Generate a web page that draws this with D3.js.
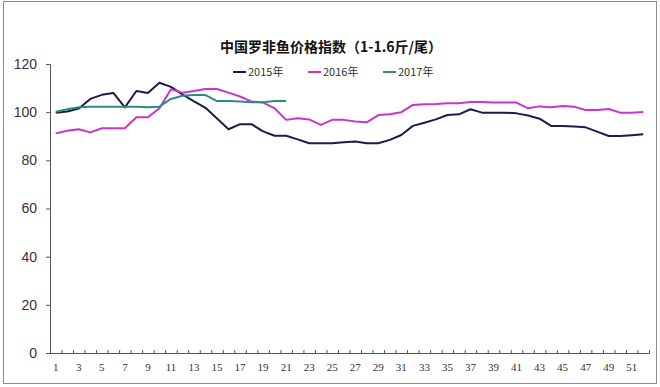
<!DOCTYPE html>
<html>
<head>
<meta charset="utf-8">
<script src="https://cdn.jsdelivr.net/npm/d3@7"></script>
<style>
  body { margin: 0; background: #fff; }
  svg { display: block; }
</style>
</head>
<body>
<div id="chart"></div>
<script>
// weeks 1..52
const weeks = d3.range(1, 53);
const yTicks = [0, 20, 40, 60, 80, 100, 120];

const y2015 = [99.8, 100.3, 101.5, 105.5, 107.2, 108, 102, 108.8, 108, 112.2,
  110.5, 107.4, 104.5, 101.8, 97.4, 92.9, 95, 95, 92, 90.2,
  90.2, 88.7, 87.1, 87.1, 87.1, 87.5, 87.8, 87.1, 87.1, 88.5,
  90.5, 94.3, 95.6, 97, 98.8, 99.1, 101.2, 99.8, 99.8, 99.8,
  99.5, 98.6, 97.3, 94.3, 94.3, 94, 93.7, 91.9, 90.1, 90.1,
  90.4, 90.8];
const y2016 = [91.2, 92.3, 92.9, 91.6, 93.3, 93.3, 93.3, 97.9, 97.9, 101.6,
  109.5, 108.1, 108.8, 109.6, 109.6, 108.1, 106.5, 104.4, 104, 101.6,
  96.8, 97.5, 97, 94.7, 96.8, 96.8, 96.1, 95.8, 98.8, 99.1,
  100, 103, 103.3, 103.4, 103.7, 103.7, 104.2, 104.2, 104, 104,
  104, 101.6, 102.4, 102, 102.6, 102.3, 100.9, 100.9, 101.3, 99.8,
  99.8, 100.1];
const y2017 = [100.2, 101.2, 102, 102.2, 102.3, 102.3, 102.3, 102.3, 102, 102.3,
  105.5, 106.8, 107.1, 107.1, 104.6, 104.6, 104.4, 104.1, 104.1, 104.6,
  104.6];

const seriesNames = ["2015年", "2016年", "2017年"];
const seriesColors = ["#1c1c4c", "#cc33cc", "#2e8a88"];
const seriesData = [y2015, y2016, y2017];

const width = 660, height = 387;
const svg = d3.select("#chart").append("svg")
  .attr("width", width)
  .attr("height", height);

// outer frame
svg.append("rect")
  .attr("x", 3.5).attr("y", 1.5)
  .attr("width", 653).attr("height", 382)
  .attr("fill", "#fff")
  .attr("stroke", "#8c8c8c");

const x = d3.scaleBand().domain(weeks).range([50, 649]);
const xEdge = d3.scaleLinear().domain([0, 52]).range([50, 649]);
const y = d3.scaleLinear().domain([0, 120]).range([353, 64]);

// title
svg.append("text")
  .attr("x", 331).attr("y", 52)
  .attr("text-anchor", "middle")
  .attr("font-family", "'Noto Sans CJK SC', sans-serif")
  .attr("font-weight", "bold")
  .attr("font-size", 14)
  .attr("fill", "#111")
  .text("中国罗非鱼价格指数（1-1.6斤/尾）");

// legend
const legendX = [233, 308, 383];
seriesNames.forEach((name, i) => {
  const g = svg.append("g").attr("transform", `translate(${legendX[i]},72)`);
  g.append("line")
    .attr("x1", 0).attr("x2", 13)
    .attr("stroke", seriesColors[i]).attr("stroke-width", 2);
  g.append("text")
    .attr("x", 15).attr("y", 4)
    .attr("font-family", "'Noto Sans CJK SC', sans-serif")
    .attr("font-size", 11)
    .attr("fill", "#333")
    .text(name);
});

// y axis
const yAxis = svg.append("g")
  .attr("transform", "translate(50,0)")
  .call(d3.axisLeft(y).tickValues(yTicks).tickSize(4).tickPadding(9));
yAxis.selectAll("text")
  .attr("font-family", "'Liberation Sans', Arial, sans-serif")
  .attr("font-size", 14)
  .attr("fill", "#333");
yAxis.selectAll("line, path").attr("stroke", "#555");

// x axis: small inner ticks on category edges
const xTicks = svg.append("g")
  .attr("transform", "translate(0,353)")
  .call(d3.axisBottom(xEdge).tickValues(d3.range(0, 53)).tickSize(-3).tickFormat(""));
xTicks.selectAll("line, path").attr("stroke", "#555");

// x labels (odd weeks)
const xLabels = svg.append("g")
  .attr("transform", "translate(0,353)")
  .call(d3.axisBottom(x).tickValues(weeks.filter(d => d % 2 === 1)).tickSize(0).tickPadding(10));
xLabels.select(".domain").remove();
xLabels.selectAll("text")
  .attr("font-family", "'Liberation Serif', serif")
  .attr("font-size", 11)
  .attr("fill", "#333");

// lines
const line = d3.line()
  .x((d, i) => x(weeks[i]) + x.bandwidth() / 2)
  .y(d => y(d));

seriesData.forEach((vals, i) => {
  svg.append("path")
    .datum(vals)
    .attr("fill", "none")
    .attr("stroke", seriesColors[i])
    .attr("stroke-width", 2)
    .attr("stroke-linejoin", "round")
    .attr("d", line);
});
</script>
</body>
</html>
